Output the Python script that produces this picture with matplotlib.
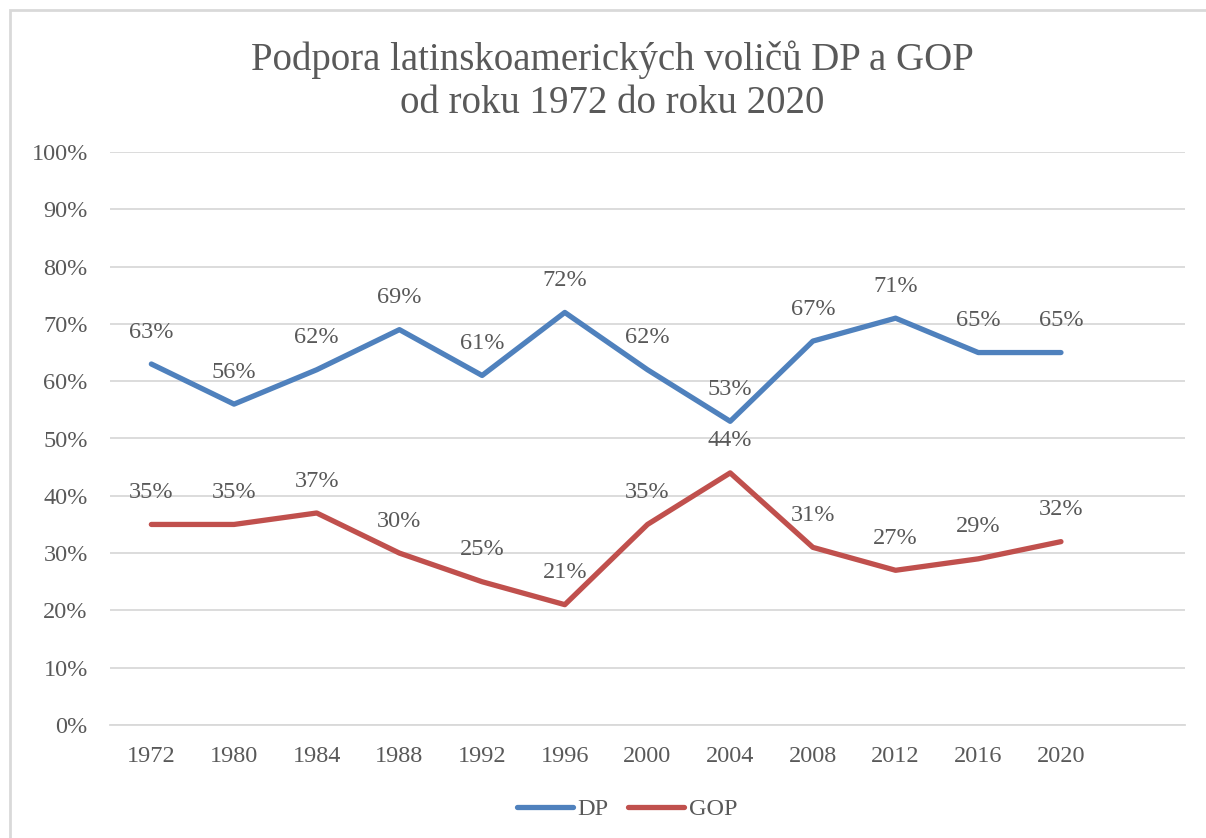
import matplotlib
matplotlib.use("Agg")
import matplotlib.pyplot as plt
from matplotlib.patches import Rectangle
from matplotlib.ticker import FuncFormatter

years = ["1972", "1980", "1984", "1988", "1992", "1996", "2000", "2004", "2008", "2012", "2016", "2020"]
dp = [63, 56, 62, 69, 61, 72, 62, 53, 67, 71, 65, 65]
gop = [35, 35, 37, 30, 25, 21, 35, 44, 31, 27, 29, 32]

TEXT = "#595959"
DP_COLOR = "#4F81BD"
GOP_COLOR = "#C0504D"
GRID = "#D9D9D9"

plt.rcParams["font.family"] = ["Liberation Serif", "DejaVu Serif"]

W, H = 1206, 838
fig = plt.figure(figsize=(W / 100, H / 100), dpi=100)
fig.patches.append(Rectangle((10 / W, -0.01), 1.02, 1 - 10 / H + 0.01, transform=fig.transFigure,
                             fill=False, edgecolor="#D9D9D9", linewidth=2))

ax = fig.add_axes([110 / W, 1 - 725 / H, (1185 - 110) / W, (725 - 152) / H])
x = list(range(len(years)))
ax.plot(x, dp, color=DP_COLOR, linewidth=3.8, solid_capstyle="round", solid_joinstyle="round", label="DP")
ax.plot(x, gop, color=GOP_COLOR, linewidth=3.8, solid_capstyle="round", solid_joinstyle="round", label="GOP")

FS = 17.5
for xi, v in zip(x, dp):
    ax.annotate(f"{v}%", (xi, v), xytext=(0, 23), textcoords="offset points",
                ha="center", va="center", fontsize=FS, color=TEXT)
for xi, v in zip(x, gop):
    ax.annotate(f"{v}%", (xi, v), xytext=(0, 23), textcoords="offset points",
                ha="center", va="center", fontsize=FS, color=TEXT)

ax.set_xlim(-0.5, len(years) + 0.5)
ax.set_ylim(0, 100)
ax.set_yticks(range(0, 101, 10))
ax.yaxis.set_major_formatter(FuncFormatter(lambda v, p: f"{int(v)}%"))
ax.set_xticks(x)
ax.set_xticklabels(years)
ax.grid(axis="y", color=GRID, linewidth=1.3)
ax.set_axisbelow(True)
for s in ["top", "right", "left"]:
    ax.spines[s].set_visible(False)
ax.spines["bottom"].set_color(GRID)
ax.spines["bottom"].set_linewidth(1.3)
ax.tick_params(axis="both", length=0, labelsize=FS, labelcolor=TEXT)
ax.tick_params(axis="y", pad=16)
ax.tick_params(axis="x", pad=15)

fig.text(0.508, 1 - 81 / H, "Podpora latinskoamerických voličů DP a GOP\nod roku 1972 do roku 2020",
         ha="center", va="center", fontsize=28, color=TEXT, linespacing=1.2)

fig.legend(loc="center", bbox_to_anchor=(0.52, 1 - 809 / H), ncol=2, frameon=False,
           fontsize=FS, labelcolor=TEXT, handlelength=2.3, handletextpad=0.2, columnspacing=0.8)

fig.savefig("out.png", dpi=100)
